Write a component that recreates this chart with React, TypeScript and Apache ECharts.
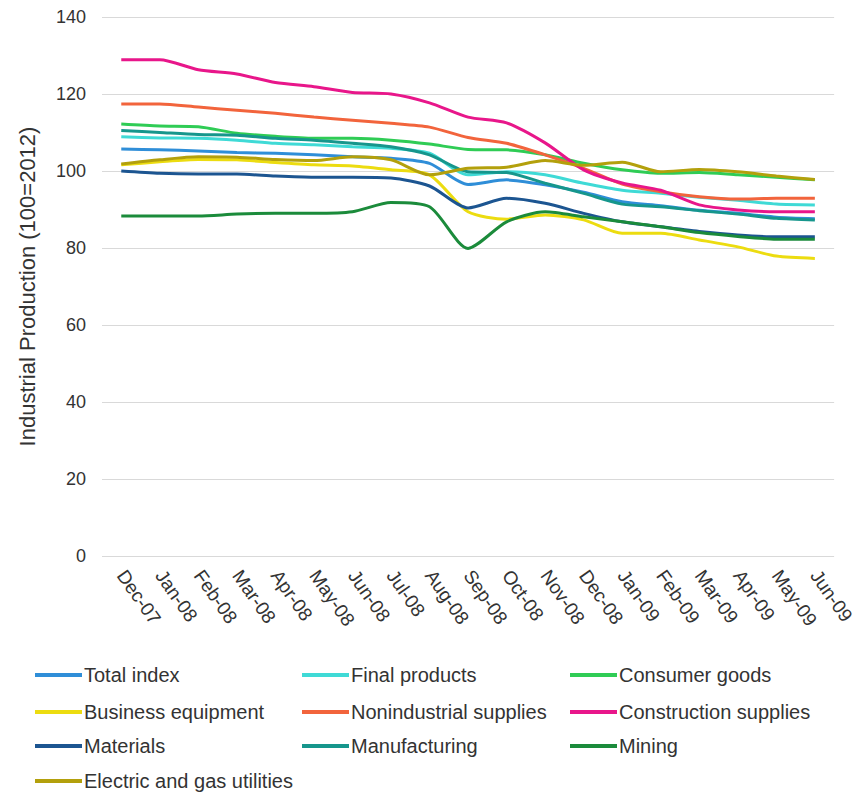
import React, { useEffect, useRef } from "react";
import * as echarts from "echarts";

const months = [
  "Dec-07", "Jan-08", "Feb-08", "Mar-08", "Apr-08", "May-08", "Jun-08", "Jul-08", "Aug-08",
  "Sep-08", "Oct-08", "Nov-08", "Dec-08", "Jan-09", "Feb-09", "Mar-09", "Apr-09", "May-09", "Jun-09",
];

const totalIndex = [105.7, 105.5, 105.2, 104.8, 104.6, 104.2, 103.7, 103.3, 102.0, 96.5, 97.7, 96.4, 94.5, 92.0, 91.0, 89.8, 89.0, 88.0, 87.6];
const finalProducts = [108.9, 108.6, 108.5, 108.0, 107.2, 106.8, 106.3, 105.9, 104.6, 99.0, 99.8, 99.0, 96.8, 95.0, 94.2, 93.2, 92.4, 91.4, 91.2];
const consumerGoods = [112.2, 111.7, 111.5, 109.8, 109.0, 108.5, 108.5, 108.0, 107.0, 105.6, 105.5, 104.2, 102.0, 100.3, 99.4, 99.6, 99.0, 98.4, 97.7];
const businessEquipment = [101.6, 102.4, 103.0, 102.9, 102.2, 101.6, 101.3, 100.3, 99.0, 89.4, 87.5, 88.6, 87.3, 83.8, 83.8, 82.1, 80.3, 77.9, 77.3];
const nonindustrialSupplies = [117.4, 117.4, 116.6, 115.8, 115.0, 114.0, 113.2, 112.4, 111.4, 108.7, 107.2, 104.2, 100.7, 96.6, 94.6, 93.3, 92.7, 92.9, 92.9];
const constructionSupplies = [128.9, 128.9, 126.3, 125.2, 123.0, 121.9, 120.4, 120.0, 117.7, 114.0, 112.5, 107.3, 100.3, 96.9, 95.0, 91.2, 89.9, 89.4, 89.4];
const materials = [100.0, 99.4, 99.2, 99.2, 98.7, 98.4, 98.4, 98.2, 96.1, 90.4, 92.9, 91.6, 89.0, 86.8, 85.5, 84.3, 83.4, 82.9, 82.9];
const manufacturing = [110.5, 110.0, 109.5, 109.3, 108.5, 108.0, 107.2, 106.3, 104.2, 99.8, 99.6, 96.8, 94.2, 91.4, 90.7, 89.7, 88.8, 87.7, 87.3];
const mining = [88.3, 88.3, 88.3, 88.8, 89.0, 89.0, 89.4, 91.8, 90.7, 79.9, 86.8, 89.4, 88.1, 86.8, 85.5, 84.0, 83.0, 82.3, 82.3];
const utilities = [101.8, 102.9, 103.7, 103.6, 103.0, 102.7, 103.7, 102.9, 99.0, 100.7, 101.0, 102.7, 101.5, 102.3, 99.8, 100.4, 99.8, 98.7, 97.8];

const yTicks = [0, 20, 40, 60, 80, 100, 120, 140];

const seriesDefs = [
  { name: "Total index", data: totalIndex, color: "#2f8ed8" },
  { name: "Final products", data: finalProducts, color: "#3fdad6" },
  { name: "Consumer goods", data: consumerGoods, color: "#2fcc55" },
  { name: "Business equipment", data: businessEquipment, color: "#ecdc10" },
  { name: "Nonindustrial supplies", data: nonindustrialSupplies, color: "#f2643c" },
  { name: "Construction supplies", data: constructionSupplies, color: "#e8168a" },
  { name: "Materials", data: materials, color: "#1c5591" },
  { name: "Manufacturing", data: manufacturing, color: "#16968c" },
  { name: "Mining", data: mining, color: "#1b8b3b" },
  { name: "Electric and gas utilities", data: utilities, color: "#b3a00c" },
];

const FONT = "'Liberation Sans', Arial, sans-serif";

// legend grid: three columns, four rows (positions in chart pixels)
const legendCols = [27, 294, 562];
const legendRows = [657, 694, 728, 763];

export default function App() {
  const ref = useRef<HTMLDivElement>(null);

  useEffect(() => {
    if (!ref.current) return;
    const chart = echarts.init(ref.current, null, { renderer: "svg" });
    chart.setOption({
      animation: false,
      backgroundColor: "#ffffff",
      grid: { left: 82, right: 9, top: 9, bottom: 236, containLabel: false },
      xAxis: {
        type: "category",
        data: months,
        boundaryGap: true,
        axisLine: { show: false },
        axisTick: { show: false },
        axisLabel: {
          rotate: -55,
          color: "#333333",
          fontSize: 19,
          fontFamily: FONT,
          margin: 16,
          interval: 0,
        },
      },
      yAxis: {
        type: "value",
        min: yTicks[0],
        max: yTicks[yTicks.length - 1],
        interval: 20,
        name: "Industrial Production (100=2012)",
        nameLocation: "middle",
        nameGap: 64,
        nameTextStyle: { color: "#333333", fontSize: 22, fontFamily: FONT },
        axisLine: { show: false },
        axisTick: { show: false },
        axisLabel: { color: "#333333", fontSize: 18, fontFamily: FONT, margin: 16 },
        splitLine: { lineStyle: { color: "#d9d9d9", width: 1 } },
      },
      legend: seriesDefs.map((s, i) => ({
        data: [s.name],
        left: legendCols[i % 3],
        top: legendRows[Math.floor(i / 3)],
        padding: 0,
        itemWidth: 47,
        itemHeight: 4,
        icon: "rect",
        textStyle: { color: "#333333", fontSize: 20, fontFamily: FONT, lineHeight: 20, padding: [0, 0, 0, -3] },
      })),
      series: seriesDefs.map((s) => ({
        name: s.name,
        type: "line",
        data: s.data,
        smooth: 0.25,
        showSymbol: false,
        symbol: "none",
        lineStyle: { color: s.color, width: 3 },
        itemStyle: { color: s.color },
      })),
    });
    return () => chart.dispose();
  }, []);

  return <div ref={ref} style={{ width: 849, height: 784 }} />;
}
